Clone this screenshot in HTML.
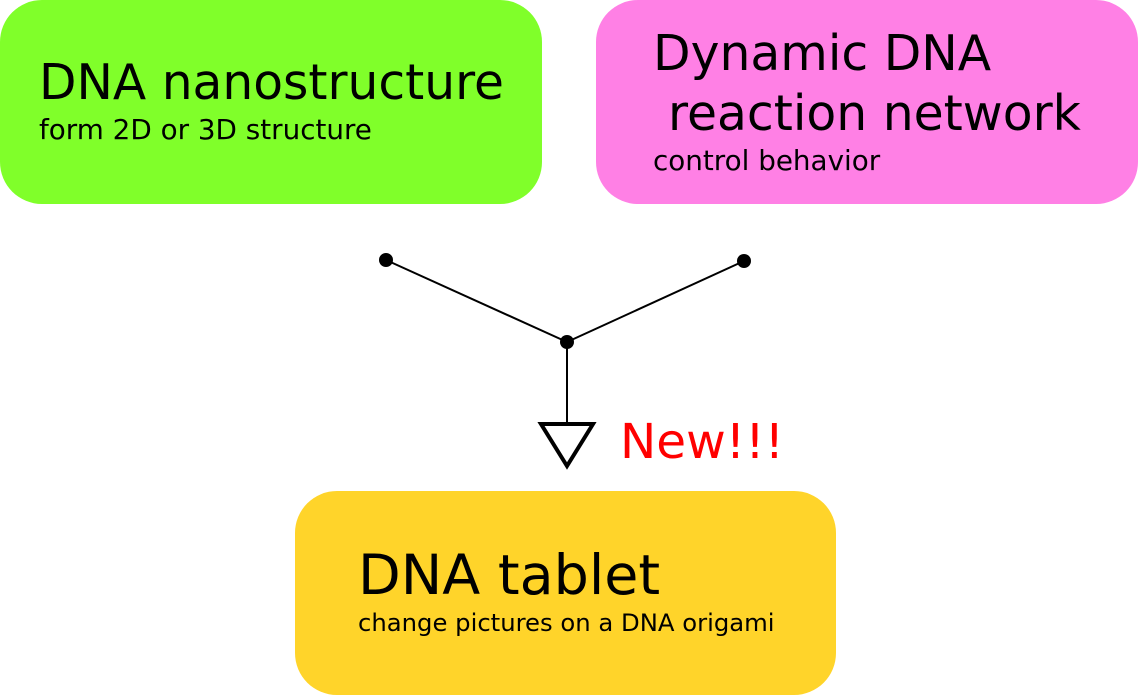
<!DOCTYPE html>
<html><head><style>
body{margin:0;width:1138px;height:695px;background:#fff;position:relative;overflow:hidden;font-family:"DejaVu Sans","Liberation Sans",sans-serif;}
.b{position:absolute;border-radius:42px;}
.t{position:absolute;white-space:nowrap;color:#000;}
</style></head><body>
<div class="b" style="left:0;top:0;width:542px;height:204px;background:#80ff2a"></div>
<div class="b" style="left:596px;top:0;width:542px;height:204px;background:#ff80e5"></div>
<div class="b" style="left:295px;top:491px;width:541px;height:204px;background:#ffd42a"></div>
<div class="t" style="left:39px;top:55px;font-size:48.7px">DNA nanostructure</div>
<div class="t" style="left:39px;top:113px;font-size:27.8px">form 2D or 3D structure</div>
<div class="t" style="left:653px;top:25px;font-size:48.8px">Dynamic DNA</div>
<div class="t" style="left:668px;top:85px;font-size:48.8px">reaction network</div>
<div class="t" style="left:653px;top:144px;font-size:27.8px">control behavior</div>
<div class="t" style="left:358px;top:543px;font-size:55.5px">DNA tablet</div>
<div class="t" style="left:358px;top:608px;font-size:24.3px">change pictures on a DNA origami</div>
<div class="t" style="left:620px;top:414px;font-size:48.5px;color:#f00">New!!!</div>
<svg width="1138" height="695" style="position:absolute;left:0;top:0">
<line x1="386" y1="260" x2="567" y2="342" stroke="#000" stroke-width="2"/>
<line x1="744" y1="261" x2="567" y2="342" stroke="#000" stroke-width="2"/>
<line x1="567" y1="342" x2="567" y2="424" stroke="#000" stroke-width="2"/>
<circle cx="386" cy="260" r="7"/><circle cx="744" cy="261" r="7"/><circle cx="567" cy="342" r="7"/>
<polygon points="541,424 593,424 567,466" fill="#fff" stroke="#000" stroke-width="4"/>
</svg>
</body></html>
